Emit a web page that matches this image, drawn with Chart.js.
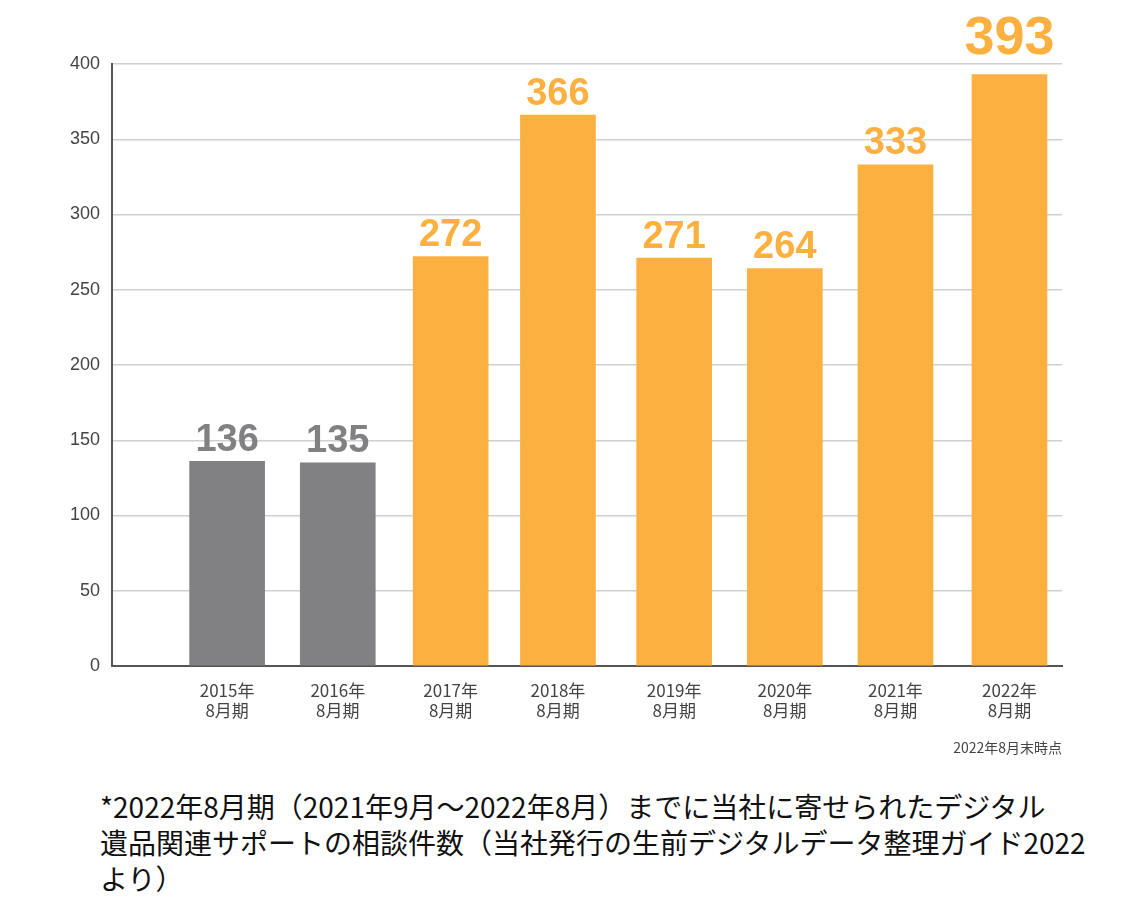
<!DOCTYPE html>
<html><head><meta charset="utf-8">
<script src="https://cdn.jsdelivr.net/npm/chart.js@4"></script>
<style>
body{margin:0;background:#fff;width:1123px;height:915px;overflow:hidden;position:relative;font-family:"Noto Sans CJK JP",sans-serif}
#wrap{position:absolute;left:0;top:0;width:1123px;height:780px}
#note{position:absolute;left:100px;top:788px;font-size:28px;line-height:36px;color:#111;white-space:nowrap}
</style></head><body>
<div id="wrap"><canvas id="c"></canvas></div>
<div id="note">*2022年8月期（2021年9月～2022年8月）までに当社に寄せられたデジタル<br>遺品関連サポートの相談件数（当社発行の生前デジタルデータ整理ガイド2022<br>より）</div>
<script>
const categories = [['2015年','8月期'],['2016年','8月期'],['2017年','8月期'],['2018年','8月期'],['2019年','8月期'],['2020年','8月期'],['2021年','8月期'],['2022年','8月期']];
const positions = [1.03, 2.02, 3.03, 3.99, 5.03, 6.02, 7.01, 8.03];
const counts = [136, 135, 272, 366, 271, 264, 333, 393];
const barColors = ['#818184','#818184','#fbb040','#fbb040','#fbb040','#fbb040','#fbb040','#fbb040'];
const yTicks = [0,50,100,150,200,250,300,350,400];

const labelPlugin = {
  id: 'labels',
  afterDatasetsDraw(chart) {
    const ctx = chart.ctx;
    const meta = chart.getDatasetMeta(0);
    ctx.save();
    ctx.textAlign = 'center';
    ctx.textBaseline = 'bottom';
    meta.data.forEach((bar, i) => {
      const big = i === counts.length - 1;
      ctx.font = 'bold ' + (big ? 54 : 38) + 'px "Liberation Sans", Arial, sans-serif';
      ctx.fillStyle = barColors[i];
      ctx.fillText(String(counts[i]), bar.x, bar.y - (big ? 8 : 2));
    });
    ctx.font = '14px "Noto Sans CJK JP", sans-serif';
    ctx.fillStyle = '#444';
    ctx.textAlign = 'right';
    ctx.textBaseline = 'middle';
    ctx.fillText('2022年8月末時点', chart.chartArea.right, 748);
    ctx.restore();
  }
};

new Chart(document.getElementById('c'), {
  type: 'bar',
  data: {
    datasets: [{
      data: positions.map((x, i) => ({ x: x, y: counts[i] })),
      backgroundColor: barColors,
      barThickness: 75
    }]
  },
  options: {
    responsive: true,
    maintainAspectRatio: false,
    animation: false,
    layout: { padding: { top: 64, right: 61, left: 0, bottom: 0 } },
    plugins: { legend: { display: false }, tooltip: { enabled: false } },
    scales: {
      x: {
        type: 'linear', min: 0, max: 8.5, offset: false,
        afterFit: s => { s.height = 114; },
        afterBuildTicks: s => { s.ticks = positions.map(v => ({ value: v })); },
        grid: { display: false },
        border: { color: '#555', width: 2 },
        ticks: {
          callback: (v, i) => categories[i],
          color: '#444', font: { size: 17, family: '"Noto Sans CJK JP", sans-serif' },
          padding: 6, maxRotation: 0, autoSkip: false
        }
      },
      y: {
        min: 0, max: 400,
        afterFit: s => { s.width = 112; },
        afterBuildTicks: s => { s.ticks = yTicks.map(v => ({ value: v })); },
        grid: { color: '#d0d0d0', lineWidth: 1.5, drawTicks: false },
        border: { color: '#555', width: 2 },
        ticks: { color: '#444', font: { size: 18, family: '"Liberation Sans", Arial, sans-serif' }, padding: 12 }
      }
    }
  },
  plugins: [labelPlugin]
});
</script>
</body></html>
